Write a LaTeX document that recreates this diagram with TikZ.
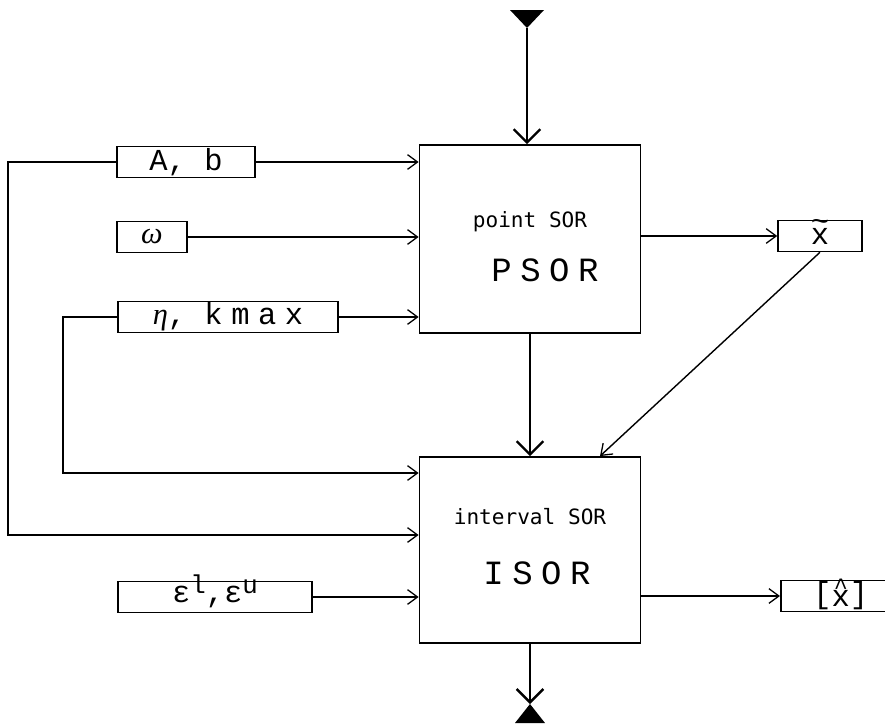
\documentclass[tikz,border=0pt]{standalone}
\usepackage{fontspec}
\setmonofont{Liberation Mono}
\newfontfamily\lblfont{Liberation Mono}
\newfontfamily\spacedfont{Liberation Mono}[LetterSpace=28]
\newfontfamily\namefont{Liberation Mono}[LetterSpace=25]
\newfontfamily\titlefont{DejaVu Sans Mono}
\newfontfamily\grkfont{Liberation Serif}
\newcommand{\supraise}[1]{\smash{\raisebox{0.3em}{\fontsize{22}{22}\selectfont #1}}}
\newcommand{\accx}[2]{\raisebox{-0.1em}{\makebox[0pt][l]{\smash{\raisebox{#2}{#1}}}x}}
\usetikzlibrary{arrows.meta, positioning, calc}
\tikzset{
    box_sor/.style={
        rectangle, draw=black, line width=1.5pt,
        minimum width=6.63cm, inner sep=0pt
    },
    box_param/.style={
        rectangle, draw=black, line width=1.3pt,
        minimum height=0.93cm, inner sep=1pt,
        font=\lblfont\fontsize{26}{28}\selectfont
    },
    sor_title/.style={font=\titlefont\fontsize{18}{20}\selectfont, inner sep=0pt},
    sor_name/.style={font=\namefont\fontsize{29}{31}\selectfont, inner sep=0pt},
    flow_arrow/.style={
        -{Straight Barb[length=3mm, width=4.4mm, line width=1.1pt]}, line width=1.2pt
    },
    main_arrow/.style={
        -{Straight Barb[length=4mm, width=8mm, line width=2pt]}, line width=2.4pt
    }
}

\begin{document}
\begin{tikzpicture}[x=0.03cm, y=-0.03cm]
    \useasboundingbox (0,0) rectangle (885,724);

    % --- Solvers: point SOR and interval SOR ---
    \node[box_sor, minimum height=5.64cm] (psor) at (530,239) {};
    \node[sor_title] (psor_title) at ($(psor)+(0,-17)$) {point SOR};
    \node[sor_name] (psor_name) at ($(psor)+(15,31)$) {PSOR};

    \node[box_sor, minimum height=5.58cm] (isor) at (530,550) {};
    \node[sor_title] (isor_title) at ($(isor)+(0,-33)$) {interval SOR};
    \node[sor_name] (isor_name) at ($(isor)+(7,23)$) {ISOR};

    % --- Parameters (left) ---
    \node[box_param, minimum width=4.14cm] (ab) at (186,162) {A, b};
    \node[box_param, minimum width=2.1cm] (omega) at (152,237) {{\grkfont\itshape ω}};
    \node[box_param, minimum width=6.6cm] (eta) at (228,317) {{\grkfont\itshape η}, {\spacedfont kmax}};
    \node[box_param, minimum width=5.82cm] (eps) at (215,597) {ε\supraise{l},ε\supraise{u}};

    % --- Results (right) ---
    \node[box_param, minimum width=2.52cm] (xt) at (820,236) {\accx{\textasciitilde}{0.42em}};
    \node[box_param, minimum width=3.6cm, anchor=west] (xh) at (780,596) {[\accx{\fontsize{20}{20}\selectfont\hspace{0.1em}\textasciicircum}{0.42em}]};

    % --- Terminals ---
    \coordinate (src) at (527,28);
    \fill (src) -- ++(-17,-18) -- ++(34,0) -- cycle;
    \coordinate (sink) at (530,704);
    \fill (sink) -- ++(-15,19) -- ++(30,0) -- cycle;

    % loop corners
    \coordinate (outer) at (8,535);
    \coordinate (inner) at (63,473);
    \coordinate (diag_in) at ($(isor.north)+(70,0)$);

    % =========================================================
    % FLOW
    % =========================================================
    \draw[main_arrow] (src) -- (src |- psor.north);
    \draw[main_arrow] (psor.south) -- (isor.north);
    \draw[main_arrow] (isor.south) -- (sink);

    % parameters -> PSOR
    \draw[flow_arrow] (ab.east) -- (ab.east -| psor.west);
    \draw[flow_arrow] (omega.east) -- (omega.east -| psor.west);
    \draw[flow_arrow] (eta.east) -- (eta.east -| psor.west);

    % parameters -> ISOR
    \draw[flow_arrow] (ab.west) -| (outer) -- (outer -| isor.west);
    \draw[flow_arrow] (eta.west) -| (inner) -- (inner -| isor.west);
    \draw[flow_arrow] (eps.east) -- (eps.east -| isor.west);

    % results
    \draw[flow_arrow] (xt.west -| psor.east) -- (xt.west);
    \draw[flow_arrow] (xt.south) -- (diag_in);
    \draw[flow_arrow] (xh.west -| isor.east) -- (xh.west);

\end{tikzpicture}
\end{document}
